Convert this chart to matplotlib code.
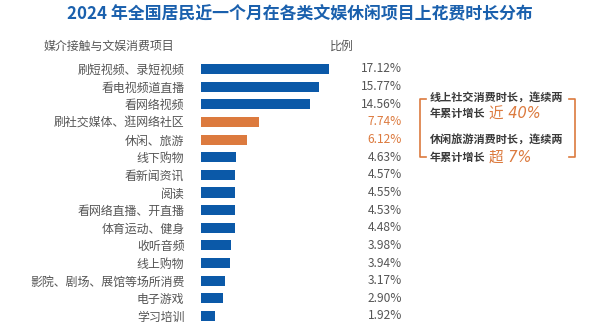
import matplotlib.pyplot as plt
from matplotlib.lines import Line2D

plt.rcParams['font.family'] = ['Noto Sans CJK SC', 'DejaVu Sans']

items = ['刷短视频、录短视频', '看电视频道直播', '看网络视频', '刷社交媒体、逛网络社区',
         '休闲、旅游', '线下购物', '看新闻资讯', '阅读', '看网络直播、开直播',
         '体育运动、健身', '收听音频', '线上购物', '影院、剧场、展馆等场所消费',
         '电子游戏', '学习培训']
share = [17.12, 15.77, 14.56, 7.74, 6.12, 4.63, 4.57, 4.55, 4.53, 4.48,
         3.98, 3.94, 3.17, 2.90, 1.92]
highlight = ['刷社交媒体、逛网络社区', '休闲、旅游']

BLUE = '#0b59a8'
ORANGE = '#dc7a3e'
GREY = '#555555'

W, H = 600, 328
fig = plt.figure(figsize=(6, 3.28), dpi=100)

def fx(px):
    return px / W

def fy(py):
    return 1 - py / H

# axes placed so rows land at the same pixels as the reference
row = (316 - 69) / 14
top = 69 - row / 2
bot = 316 + row / 2
ax = fig.add_axes([fx(201), fy(bot), fx(402 - 201), (bot - top) / H])
pos = list(range(len(items)))
colors = [ORANGE if it in highlight else BLUE for it in items]
ax.barh(pos, share, height=0.57, color=colors)
ax.set_xlim(0, (402 - 201) / 7.48)
ax.set_ylim(len(items) - 0.5, -0.5)
ax.set_yticks(pos)
ax.set_yticklabels(items, fontsize=8.6, color=GREY)
ax.tick_params(axis='y', length=0, pad=12)
ax.set_xticks([])
for s in ax.spines.values():
    s.set_visible(False)

for p, v, c in zip(pos, share, colors):
    tc = ORANGE if c == ORANGE else GREY
    ax.text(1.0, p, f'{v:.2f}%', transform=ax.get_yaxis_transform(),
            ha='right', va='center', fontsize=8.6, color=tc)

fig.text(0.5, fy(13), '2024 年全国居民近一个月在各类文娱休闲项目上花费时长分布',
         ha='center', va='center', fontsize=12.2, fontweight='bold', color='#1a60ad')
fig.text(fx(44), fy(46), '媒介接触与文娱消费项目', ha='left', va='center',
         fontsize=8.6, color=GREY)
fig.text(fx(330), fy(46), '比例', ha='left', va='center', fontsize=8.6, color=GREY)

# bracket around the notes
bx0, bx1, by0, by1, tk = 420, 575, 99, 157, 6
for xs, ys in [([bx0 + tk, bx0, bx0, bx0 + tk], [by0, by0, by1, by1]),
               ([bx1 - tk, bx1, bx1, bx1 - tk], [by0, by0, by1, by1])]:
    fig.add_artist(Line2D([fx(x) for x in xs], [fy(y) for y in ys],
                          color=ORANGE, lw=1.2))

notes = [('线上社交消费时长，连续两', '年累计增长', '近 40%', 97),
         ('休闲旅游消费时长，连续两', '年累计增长', '超 7%', 140)]
for line1, line2, hi, y in notes:
    fig.text(fx(430), fy(y), line1, ha='left', va='center', fontsize=8.0,
             fontweight='bold', color='#3a3a3a')
    fig.text(fx(430), fy(y + 17), line2, ha='left', va='center', fontsize=8.0,
             fontweight='bold', color='#3a3a3a')
    fig.text(fx(489), fy(y + 17), hi, ha='left', va='center', fontsize=10.5,
             style='italic', color=ORANGE, family=['DejaVu Sans', 'Noto Sans CJK SC'])

fig.savefig('out.png', dpi=100)
